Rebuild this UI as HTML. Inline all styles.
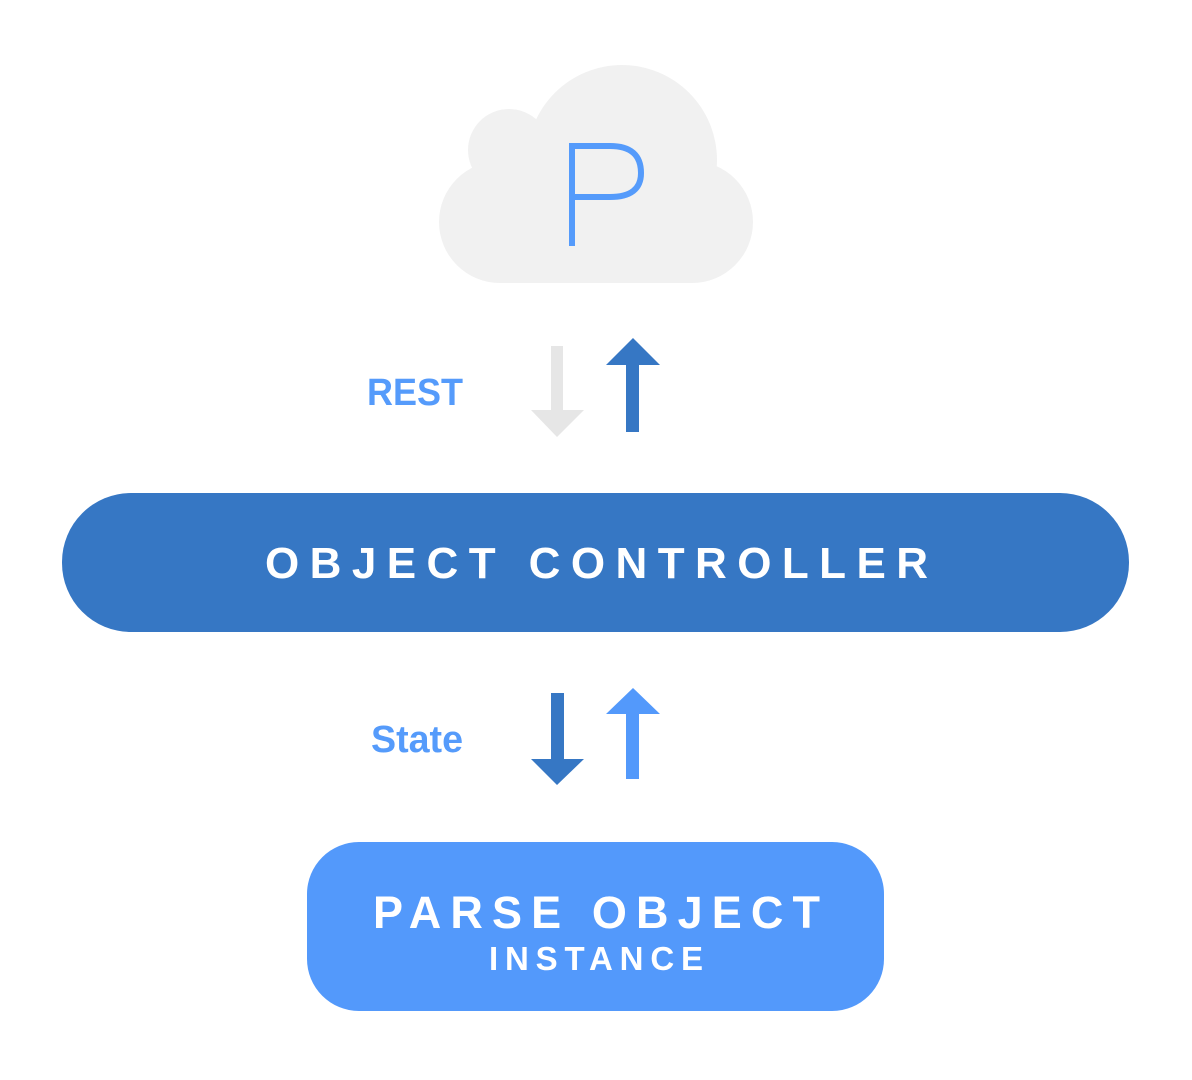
<!DOCTYPE html>
<html><head><style>body{margin:0;background:#fff}svg{display:block}</style></head><body>
<svg width="1192" height="1080" viewBox="0 0 1192 1080" xmlns="http://www.w3.org/2000/svg" font-family="Liberation Sans, sans-serif" font-weight="bold">
<g fill="#f1f1f1">
<circle cx="622" cy="160" r="95"/>
<circle cx="509" cy="150" r="41"/>
<circle cx="500" cy="222" r="61"/>
<circle cx="692" cy="222" r="61"/>
<rect x="500" y="160" width="192" height="123"/>
</g>
<path d="M572 246 V146 H610 Q641 146 641 173 Q641 197 610 197 H572" fill="none" stroke="#559bfb" stroke-width="6"/>
<text x="367" y="405" font-size="38" fill="#559bfb" textLength="96" lengthAdjust="spacingAndGlyphs">REST</text>
<text x="371" y="752" font-size="38" fill="#559bfb" textLength="92" lengthAdjust="spacingAndGlyphs">State</text>
<polygon points="551,346 563,346 563,410 584,410 557,437 531,410 551,410" fill="#e6e6e6"/>
<polygon points="633,338 660,365 639,365 639,432 626,432 626,365 606,365" fill="#3677c4"/>
<polygon points="551,693 564,693 564,759 584,759 557,785 531,759 551,759" fill="#3677c4"/>
<polygon points="633,688 660,714 639,714 639,779 626,779 626,714 606,714" fill="#5399fb"/>
<rect x="62" y="493" width="1067" height="139" rx="69" fill="#3677c4"/>
<text x="265" y="578" font-size="44" fill="#fff" textLength="663" lengthAdjust="spacing">OBJECT CONTROLLER</text>
<rect x="307" y="842" width="577" height="169" rx="52" fill="#5399fb"/>
<text x="373" y="928" font-size="45" fill="#fff" textLength="447" lengthAdjust="spacing">PARSE OBJECT</text>
<text x="489" y="970" font-size="33" fill="#fff" textLength="214" lengthAdjust="spacing">INSTANCE</text>
</svg>
</body></html>
